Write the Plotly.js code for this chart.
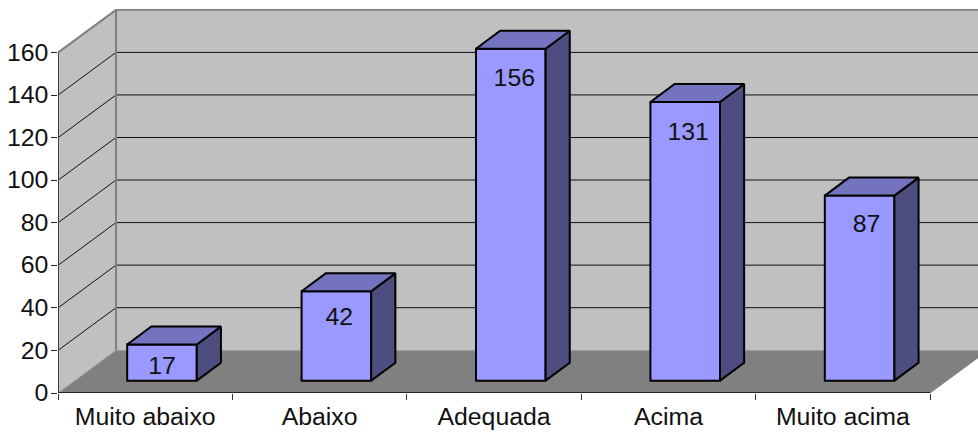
<!DOCTYPE html>
<html><head><meta charset="utf-8">
<script src="https://cdn.plot.ly/plotly-3.0.1.min.js"></script>
<style>html,body{margin:0;padding:0;background:#fff}#c{width:978px;height:432px}</style>
</head><body><div id="c"></div>
<script>
const categories = ["Muito abaixo","Abaixo","Adequada","Acima","Muito acima"];
const values = [17,42,156,131,87];
const yTicks = [0,20,40,60,80,100,120,140,160];

(function(){
const font = "Liberation Sans, Arial, sans-serif";
const n = categories.length;
const xMax = 5.275, yMax = 180.5;
// floor/wall depth in axis units
const DX = 0.3326, DY = 20.1;
// bar placement
const barW = 0.399, barShiftX = 0.0962, barBase = 5.8;
const bdx = 0.1385, bdy = 8.45;
// data label placement relative to each bar (axis units)
const labelDrop = [11,13,14.9,15.2,14.4];
const labelShift = [0,0.017,0.02,0.017,0.04];
const stretch = 1.08;

function poly(pts, fill, line, w){
  return {type:'path', xref:'x', yref:'y', layer:'below',
    path:'M'+pts.map(p=>p[0]+','+p[1]).join('L')+(fill?'Z':''),
    fillcolor:fill||'rgba(0,0,0,0)', line:{color:line||'rgba(0,0,0,0)', width:w||0}};
}
const yTop = yTicks[yTicks.length-1];
const shapes = [
  poly([[DX,DY],[xMax+1,DY],[xMax+1,yTop+DY],[DX,yTop+DY]],'#c0c0c0'),
  poly([[0,0],[DX,DY],[DX,yTop+DY],[0,yTop]],'#c0c0c0'),
  poly([[0,0],[n,0],[n+DX,DY],[DX,DY]],'#808080')
];
yTicks.slice(1).forEach(v=>{
  const last = v===yTop;
  shapes.push(poly([[0,v],[DX,v+DY],[xMax+1,v+DY]],null,last?'#808080':'#111',last?2:1));
});
shapes.push(poly([[DX,DY],[DX,yTop+DY]],null,'#808080',2));
shapes.push(poly([[0,0],[0,yTop]],null,'#404040',2));
shapes.push(poly([[0,0],[DX,DY]],null,'#a0a0a0',1));
shapes.push(poly([[n,0],[n+DX,DY]],null,'#808080',1));
shapes.push(poly([[0,0],[n,0]],null,'#222',2));

const centers = categories.map((c,i)=>i+0.5);
const bx = centers.map(c=>c+barShiftX);

const traces = [{
  type:'bar', x:bx, y:values, base:barBase, width:barW,
  marker:{color:'#9999ff', line:{color:'#000', width:2}}, hoverinfo:'skip'
}];
values.forEach((v,i)=>{
  const l = bx[i]-barW/2, r = bx[i]+barW/2, b = barBase, t = barBase+v;
  traces.push({type:'scatter',mode:'lines',fill:'toself',fillcolor:'#4d4d80',
    x:[r,r+bdx,r+bdx,r,r],y:[b,b+bdy,t+bdy,t,b],line:{color:'#000',width:2},hoverinfo:'skip'});
  traces.push({type:'scatter',mode:'lines',fill:'toself',fillcolor:'#7373bf',
    x:[l,l+bdx,r+bdx,r,l],y:[t,t+bdy,t+bdy,t,t],line:{color:'#000',width:2},hoverinfo:'skip'});
});
traces.push({type:'scatter',mode:'text',x:bx.map((x,i)=>x+labelShift[i]),
  y:values.map((v,i)=>barBase+v-labelDrop[i]),
  text:values.map(String),textposition:'middle center',
  textfont:{family:font,size:23,color:'#111'},hoverinfo:'skip'});

Plotly.newPlot('c',traces,{
  width:978,height:432,showlegend:false,
  margin:{l:57.5,r:0,t:9,b:39},
  paper_bgcolor:'#fff',plot_bgcolor:'#fff',
  shapes:shapes,
  xaxis:{range:[0,xMax],tickmode:'array',tickvals:centers,ticktext:categories,
    ticks:'',showgrid:false,zeroline:false,showline:false,ticklabelstandoff:8,
    tickfont:{family:font,size:23,color:'#111'},
    minor:{tickmode:'array',tickvals:[0,1,2,3,4,5],ticks:'outside',ticklen:6,tickwidth:1,tickcolor:'#333',showgrid:false}},
  yaxis:{range:[0,yMax],tickmode:'array',tickvals:yTicks,ticks:'outside',ticklen:6,tickwidth:1,tickcolor:'#222',
    showgrid:false,zeroline:false,showline:false,
    tickfont:{family:font,size:23,color:'#111'}}
},{displayModeBar:false,staticPlot:true}).then(gd=>{
  // the reference's lettering is horizontally stretched
  gd.querySelectorAll('.xtick text, .ytick text, .textpoint text').forEach(t=>{
    t.setAttribute('textLength', t.getComputedTextLength()*stretch);
    t.setAttribute('lengthAdjust','spacingAndGlyphs');
  });
  // y tick labels sit closer to the axis in the reference
  gd.querySelectorAll('.ytick text').forEach(t=>{
    t.setAttribute('x', parseFloat(t.getAttribute('x'))+2);
  });
});
})();
</script></body></html>
